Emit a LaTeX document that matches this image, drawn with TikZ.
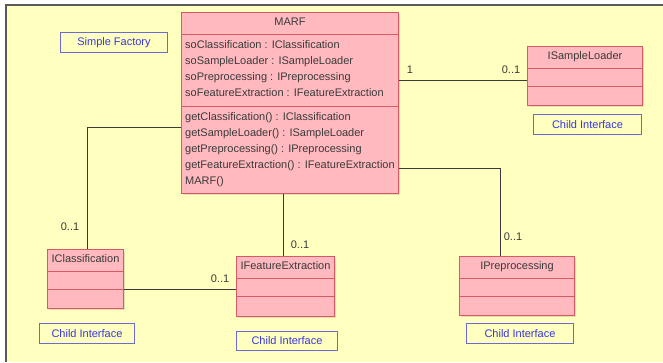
\documentclass[tikz,border=0pt]{standalone}
\usepackage{fontspec}
\setmainfont{Liberation Sans}
\usetikzlibrary{shadows}
\definecolor{paper}{HTML}{FFFFC0}
\definecolor{umlpink}{HTML}{FFB9BF}
\definecolor{umlred}{HTML}{D95A62}
\definecolor{ifblue}{HTML}{6B6BD6}
\definecolor{iftext}{HTML}{3636E6}
\definecolor{ink}{HTML}{3A3A3A}
\definecolor{frame}{HTML}{5A5A5A}

\begin{document}
\begin{tikzpicture}[x=1pt,y=-1pt,font=\fontsize{11}{16}\selectfont,
  cls/.style={draw=umlred,fill=umlpink,line width=1pt,inner sep=0pt,anchor=north west,
    drop shadow={shadow xshift=1.2pt,shadow yshift=-1.2pt,opacity=0.25}},
  sep/.style={draw=umlred,line width=1pt},
  hint/.style={draw=ifblue,text=iftext,line width=1pt,inner sep=0pt,anchor=north west},
  assoc/.style={draw=ink,line width=1pt},
  mult/.style={text=ink,inner sep=0pt}]
\useasboundingbox (0,0) rectangle (663,362);
\fill[white] (0,0) rectangle (663,362);
\fill[paper] (6,5) rectangle (663,362);
\draw[frame,line width=1.5pt] (6,362) -- (6,5) -- (663,5);

% main class
\node[cls,minimum width=217pt,minimum height=181pt] (marf) at (181,12) {};
\draw[sep] ([yshift=-22pt]marf.north west) -- ([yshift=-22pt]marf.north east);
\draw[sep] ([yshift=-94pt]marf.north west) -- ([yshift=-94pt]marf.north east);
\node[text=ink,anchor=base] (marfname) at ([yshift=-13.5pt]marf.north) {MARF};
\node[text=ink,anchor=north west,align=left,inner sep=0pt] (marfattr) at (185,40)
  {soClassification : IClassification\\soSampleLoader : ISampleLoader\\soPreprocessing : IPreprocessing\\soFeatureExtraction : IFeatureExtraction};
\node[text=ink,anchor=north west,align=left,inner sep=0pt] (marfops) at (185,112)
  {getClassification() : IClassification\\getSampleLoader() : ISampleLoader\\getPreprocessing() : IPreprocessing\\getFeatureExtraction() : IFeatureExtraction\\MARF()};

% child classes
\node[cls,minimum width=115pt,minimum height=59pt] (isl) at (527,46) {};
\node[cls,minimum width=76pt,minimum height=59pt] (icls) at (47,249) {};
\node[cls,minimum width=98pt,minimum height=60pt] (ifeat) at (236,256) {};
\node[cls,minimum width=115pt,minimum height=59pt] (iprep) at (459,256) {};
\foreach \c in {isl,icls,ifeat,iprep} {
  \draw[sep] ([yshift=-22pt]\c.north west) -- ([yshift=-22pt]\c.north east);
  \draw[sep] ([yshift=-40pt]\c.north west) -- ([yshift=-40pt]\c.north east);
}
\node[text=ink,anchor=base] (isltitle) at ([yshift=-13pt]isl.north) {ISampleLoader};
\node[text=ink,anchor=base] (iclstitle) at ([yshift=-13pt]icls.north) {IClassification};
\node[text=ink,anchor=base] (ifeattitle) at ([yshift=-13pt]ifeat.north) {IFeatureExtraction};
\node[text=ink,anchor=base] (ipreptitle) at ([yshift=-13pt]iprep.north) {IPreprocessing};

% notes
\node[hint,minimum width=107pt,minimum height=20pt] (factory) at (60,32) {Simple Factory};
\node[hint,minimum width=108pt,minimum height=20pt] (islnote) at (533,114) {Child Interface};
\node[hint,minimum width=95pt,minimum height=20pt] (iclsnote) at (39,323) {Child Interface};
\node[hint,minimum width=101pt,minimum height=19pt] (ifeatnote) at (236,331) {Child Interface};
\node[hint,minimum width=107pt,minimum height=20pt] (iprepnote) at (466,323) {Child Interface};

% associations
\coordinate (fe) at ([xshift=-2pt]ifeat.north);
\draw[assoc] ([yshift=-68pt]marf.north east) -- ([yshift=-34pt]isl.north west);
\draw[assoc] ([yshift=-115pt]marf.north west) -| ([xshift=2pt]icls.north);
\draw[assoc] (fe) -- (fe |- marf.south);
\draw[assoc] ([yshift=-40pt]icls.north east) -- ([yshift=-33pt]ifeat.north west);
\draw[assoc] ([yshift=-156pt]marf.north east) -| ([xshift=-17pt]iprep.north);

\node[mult] (islone) at (410,70) {1};
\node[mult] (islmult) at (511,70) {0..1};
\node[mult] (iclsmult) at (70,227) {0..1};
\node[mult] (ifeatmult) at (300,245) {0..1};
\node[mult] (ifeatside) at (220,279) {0..1};
\node[mult] (iprepmult) at (513,237) {0..1};
\end{tikzpicture}
\end{document}
